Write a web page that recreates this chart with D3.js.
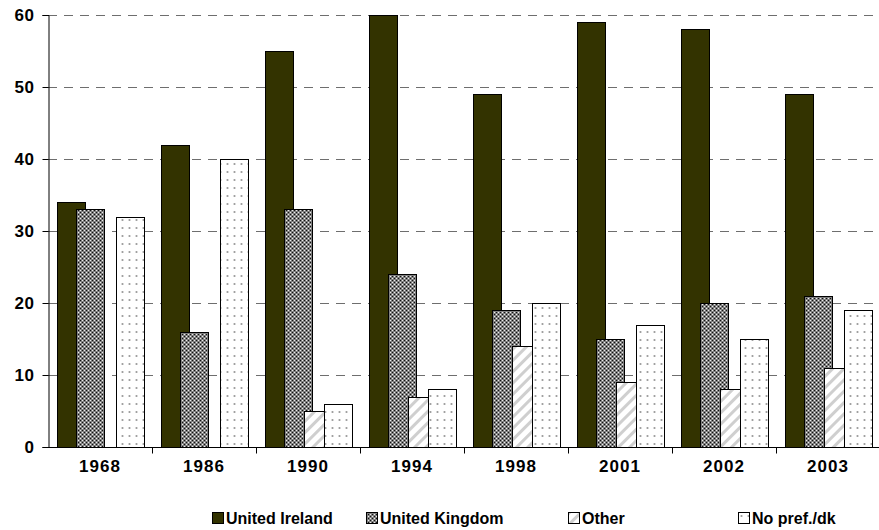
<!DOCTYPE html>
<html>
<head>
<meta charset="utf-8">
<script src="https://cdn.jsdelivr.net/npm/d3@7"></script>
<style>
  body { margin: 0; background: #fff; }
  text { font-family: "Liberation Sans", Arial, sans-serif; font-weight: bold; fill: #000; }
</style>
</head>
<body>
<div id="chart"></div>
<script>
const width = 879;
const height = 530;

// data
const years = ["1968", "1986", "1990", "1994", "1998", "2001", "2002", "2003"];
const series = ["United Ireland", "United Kingdom", "Other", "No pref./dk"];
const unitedIreland = [34, 42, 55, 60, 49, 59, 58, 49];
const unitedKingdom = [33, 16, 33, 24, 19, 15, 20, 21];
const other = [0, 0, 5, 7, 14, 9, 8, 11];
const noPref = [32, 40, 6, 8, 20, 17, 15, 19];
const yTicks = [0, 10, 20, 30, 40, 50, 60];

const values = [unitedIreland, unitedKingdom, other, noPref];

const margin = {top: 15, right: -1, bottom: 83, left: 48};

const svg = d3.select("#chart")
    .append("svg")
    .attr("width", width)
    .attr("height", height);

// patterns
const defs = svg.append("defs");

const pUK = defs.append("pattern").attr("id", "pat-uk")
    .attr("patternUnits", "userSpaceOnUse").attr("width", 4).attr("height", 4);
pUK.append("rect").attr("width", 4).attr("height", 4).attr("fill", "#808080");
pUK.append("rect").attr("x", 0).attr("y", 0).attr("width", 1).attr("height", 1).attr("fill", "#111");
pUK.append("rect").attr("x", 2).attr("y", 2).attr("width", 1).attr("height", 1).attr("fill", "#111");
pUK.append("rect").attr("x", 2).attr("y", 0).attr("width", 1).attr("height", 1).attr("fill", "#eee");
pUK.append("rect").attr("x", 0).attr("y", 2).attr("width", 1).attr("height", 1).attr("fill", "#eee");

const pOther = defs.append("pattern").attr("id", "pat-other")
    .attr("patternUnits", "userSpaceOnUse").attr("width", 8).attr("height", 8)
    .attr("patternTransform", "rotate(45)");
pOther.append("rect").attr("width", 8).attr("height", 8).attr("fill", "#fff");
pOther.append("rect").attr("x", 0).attr("width", 3).attr("height", 8).attr("fill", "#cfcfcf");

const pNo = defs.append("pattern").attr("id", "pat-no")
    .attr("patternUnits", "userSpaceOnUse").attr("width", 7).attr("height", 8);
pNo.append("rect").attr("width", 7).attr("height", 8).attr("fill", "#fff");
pNo.append("circle").attr("cx", 3.5).attr("cy", 4).attr("r", 1.1).attr("fill", "#999");

const fills = ["#333300", "url(#pat-uk)", "url(#pat-other)", "url(#pat-no)"];

const x = d3.scaleBand()
    .domain(years)
    .range([margin.left, width - margin.right]);

const y = d3.scaleLinear()
    .domain([0, 60])
    .range([height - margin.bottom, margin.top]);

const bw = x.bandwidth();
const barW = bw * 0.27;
const xs = d3.scalePoint()
    .domain(series)
    .range([bw * 0.084, bw * 0.651]);

// gridlines
svg.append("g")
  .selectAll("line")
  .data(yTicks.filter(d => d > 0))
  .join("line")
    .attr("x1", margin.left)
    .attr("x2", width)
    .attr("y1", d => Math.round(y(d)) + 0.5)
    .attr("y2", d => Math.round(y(d)) + 0.5)
    .attr("stroke", "#6e6e6e")
    .attr("stroke-dasharray", "9,7");

// bars
series.forEach((s, i) => {
  svg.append("g")
    .selectAll("rect")
    .data(values[i].map((v, j) => ({year: years[j], v: v})).filter(d => d.v > 0))
    .join("rect")
      .attr("x", d => Math.round(x(d.year) + xs(s)) + 0.5)
      .attr("y", d => Math.round(y(d.v)) + 0.5)
      .attr("width", Math.round(barW))
      .attr("height", d => Math.round(y(0)) - Math.round(y(d.v)))
      .attr("fill", fills[i])
      .attr("stroke", "#000")
      .attr("stroke-width", 1);
});

// y axis
const yAxis = svg.append("g")
    .attr("transform", `translate(${margin.left + 0.5},0)`)
    .call(d3.axisLeft(y).tickValues(yTicks).tickSize(6).tickPadding(8));
yAxis.select(".domain").attr("stroke", "#000");
yAxis.selectAll(".tick text")
    .style("font-size", "17px")
    .style("letter-spacing", "0.5px");
yAxis.selectAll(".tick line").attr("stroke", "#000");

// x axis with ticks at band edges
const xAxisG = svg.append("g")
    .attr("transform", `translate(0,${Math.round(y(0)) + 0.5})`);
xAxisG.append("line")
    .attr("x1", margin.left).attr("x2", width)
    .attr("stroke", "#000");
xAxisG.selectAll("line.tk")
  .data(years.slice(1))
  .join("line")
    .attr("class", "tk")
    .attr("x1", d => Math.round(x(d)) + 0.5)
    .attr("x2", d => Math.round(x(d)) + 0.5)
    .attr("y1", 0).attr("y2", 6)
    .attr("stroke", "#000");
xAxisG.selectAll("text")
  .data(years)
  .join("text")
    .attr("x", d => x(d) + bw / 2)
    .attr("y", 24)
    .attr("text-anchor", "middle")
    .style("font-size", "17px")
    .style("letter-spacing", "1px")
    .text(d => d);

// legend
const legendX = [212, 366, 568, 738];
const legend = svg.append("g");
series.forEach((s, i) => {
  const g = legend.append("g").attr("transform", `translate(${legendX[i]},512)`);
  g.append("rect")
    .attr("x", 0.5).attr("y", 0.5)
    .attr("width", 11).attr("height", 11)
    .attr("fill", fills[i])
    .attr("stroke", "#000");
  g.append("text")
    .attr("x", 14)
    .attr("y", 12)
    .style("font-size", "16px")
    .text(s);
});
</script>
</body>
</html>
